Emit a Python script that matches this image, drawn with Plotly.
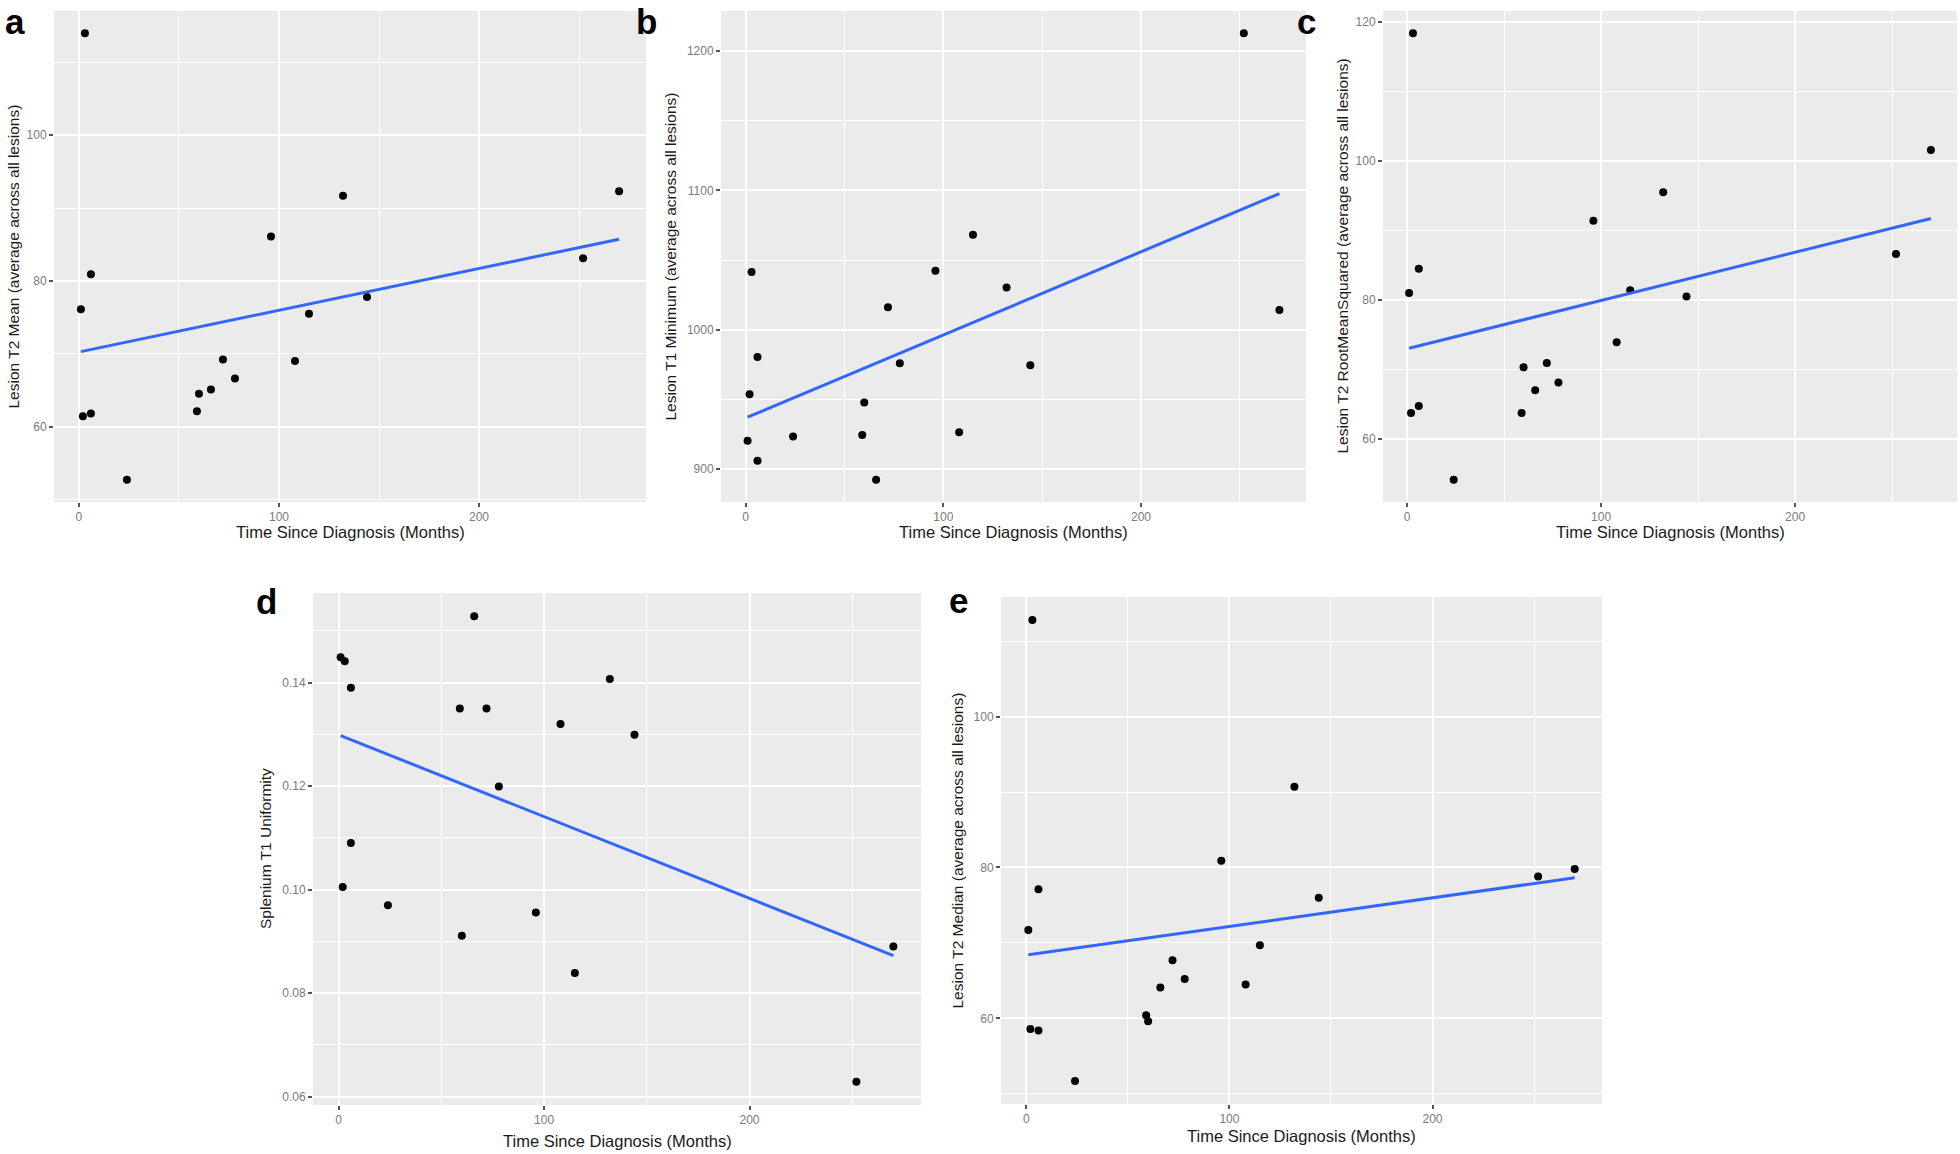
import numpy as np
import plotly.graph_objects as go

# ---------------- data ----------------
months = [1, 2, 3, 6, 6, 24, 59, 60, 66, 72, 78, 96, 108, 115, 132, 144, 252, 270]

lesion_t2_mean = [76.1, 61.4, 114.0, 80.9, 61.8, 52.7, 62.1, 64.5, 65.1, 69.2,
                  66.6, 86.1, 69.0, 75.5, 91.7, 77.8, 83.1, 92.3]
lesion_t1_minimum = [920.3, 953.6, 1041.5, 980.3, 905.9, 923.3, 924.4, 947.7, 892.3, 1016.2,
                     975.9, 1042.3, 926.4, 1068.2, 1030.3, 974.4, 1212.8, 1014.1]
lesion_t2_rms = [81.0, 63.7, 118.4, 84.5, 64.7, 54.1, 63.7, 70.3, 67.0, 70.9,
                 68.1, 91.4, 73.9, 81.4, 95.5, 80.5, 86.6, 101.6]
splenium_t1_uniformity = [0.1449, 0.1005, 0.1441, 0.1390, 0.1090, 0.0970, 0.1350, 0.0911, 0.1528, 0.1350,
                          0.1199, 0.0956, 0.1320, 0.0839, 0.1407, 0.1299, 0.0629, 0.0890]
lesion_t2_median = [71.7, 58.6, 112.8, 77.1, 58.4, 51.7, 60.4, 59.6, 64.1, 67.7,
                    65.2, 80.9, 64.5, 69.7, 90.7, 76.0, 78.8, 79.8]

x_title = "Time Since Diagnosis (Months)"
x_ticks = [0, 100, 200]

panel_letters = ["a", "b", "c", "d", "e"]
y_titles = [
    "Lesion T2 Mean (average across all lesions)",
    "Lesion T1 Minimum (average across all lesions)",
    "Lesion T2 RootMeanSquared (average across all lesions)",
    "Splenium T1 Uniformity",
    "Lesion T2 Median (average across all lesions)",
]
y_series = [lesion_t2_mean, lesion_t1_minimum, lesion_t2_rms, splenium_t1_uniformity, lesion_t2_median]
y_ticks = [[60, 80, 100], [900, 1000, 1100, 1200], [60, 80, 100, 120],
           [0.06, 0.08, 0.10, 0.12, 0.14], [60, 80, 100]]
y_minor = [10, 50, 10, 0.01, 10]
y_fmt = ["d", "d", "d", ".2f", "d"]

# ---------------- layout (pixels in a 1960x1154 page) ----------------
W, H = 1960, 1154
# plot boxes: left, right, top, bottom
boxes = [
    (54, 646, 11, 502),
    (721, 1306, 11, 502),
    (1383, 1957, 11, 502),
    (313, 921, 593, 1105),
    (1001, 1602, 597, 1104),
]
# letter centre x, and (anchor, y)
letter_x = [15, 646, 1306, 266, 958]
letter_y = [("top", 0), ("top", 0), ("top", 0), ("middle", 601), ("middle", 600)]
ytitle_x = [13, 670, 1342, 265, 957]
xtitle_y = [532, 532, 532, 1141, 1136]

GRID_BG = "#EBEBEB"
TICK_COL = "#7a7a7a"
FONT = "Liberation Sans, Arial, sans-serif"


def px_x(v):
    return v / W


def px_y(v):
    return 1 - v / H


def expand(vals, frac=0.05):
    lo, hi = min(vals), max(vals)
    span = hi - lo
    return [lo - frac * span, hi + frac * span]


fig = go.Figure()
annotations = []
layout_axes = {}

for i in range(5):
    k = "" if i == 0 else str(i + 1)
    xa, ya = "x" + k, "y" + k
    y = np.array(y_series[i], dtype=float)
    x = np.array(months, dtype=float)

    fig.add_trace(go.Scatter(
        x=months, y=y_series[i], mode="markers", xaxis=xa, yaxis=ya,
        marker=dict(color="black", size=8), showlegend=False, hoverinfo="x+y"))

    slope, intercept = np.polyfit(x, y, 1)
    xl = np.linspace(x.min(), x.max(), 50)
    fig.add_trace(go.Scatter(
        x=xl, y=slope * xl + intercept, mode="lines", xaxis=xa, yaxis=ya,
        line=dict(color="#3366FF", width=3), showlegend=False, hoverinfo="skip"))

    l, r, t, b = boxes[i]
    common = dict(
        showline=False, zeroline=False, showgrid=True, gridcolor="white", gridwidth=2,
        ticks="outside", ticklen=4, tickwidth=1.5, tickcolor="#555555",
        tickfont=dict(family=FONT, size=12, color=TICK_COL),
    )
    layout_axes["xaxis" + k] = dict(
        common, domain=[px_x(l), px_x(r)], anchor=ya, range=expand(months),
        tickmode="array", tickvals=x_ticks,
        minor=dict(dtick=50, tick0=0, showgrid=True, gridcolor="white", gridwidth=1, ticklen=0),
    )
    layout_axes["yaxis" + k] = dict(
        common, domain=[px_y(b), px_y(t)], anchor=xa, range=expand(y_series[i]),
        tickmode="array", tickvals=y_ticks[i], tickformat=y_fmt[i],
        minor=dict(dtick=y_minor[i], tick0=0, showgrid=True, gridcolor="white", gridwidth=1, ticklen=0),
    )

    annotations.append(dict(
        text=x_title, xref="paper", yref="paper", x=px_x((l + r) / 2), y=px_y(xtitle_y[i]),
        xanchor="center", yanchor="middle", showarrow=False,
        font=dict(family=FONT, size=16.5, color="#1a1a1a")))
    annotations.append(dict(
        text=y_titles[i], xref="paper", yref="paper", x=px_x(ytitle_x[i]), y=px_y((t + b) / 2),
        xanchor="center", yanchor="middle", textangle=-90, showarrow=False,
        font=dict(family=FONT, size=15.5, color="#1a1a1a")))
    anc, ly = letter_y[i]
    annotations.append(dict(
        text="<b>%s</b>" % panel_letters[i], xref="paper", yref="paper",
        x=px_x(letter_x[i]), y=px_y(ly),
        xanchor="center", yanchor=anc, showarrow=False,
        font=dict(family=FONT, size=35, color="black")))

fig.update_layout(
    width=W, height=H, margin=dict(l=0, r=0, t=0, b=0),
    paper_bgcolor="white", plot_bgcolor=GRID_BG,
    annotations=annotations, showlegend=False, hovermode=False,
    **layout_axes,
)

# remove the browser's default 8px body margin so the figure fills the page exactly
fig.write_html("out.html",
               config={"displayModeBar": False},
               post_script="document.body.style.margin='0';document.body.style.overflow='hidden';")
